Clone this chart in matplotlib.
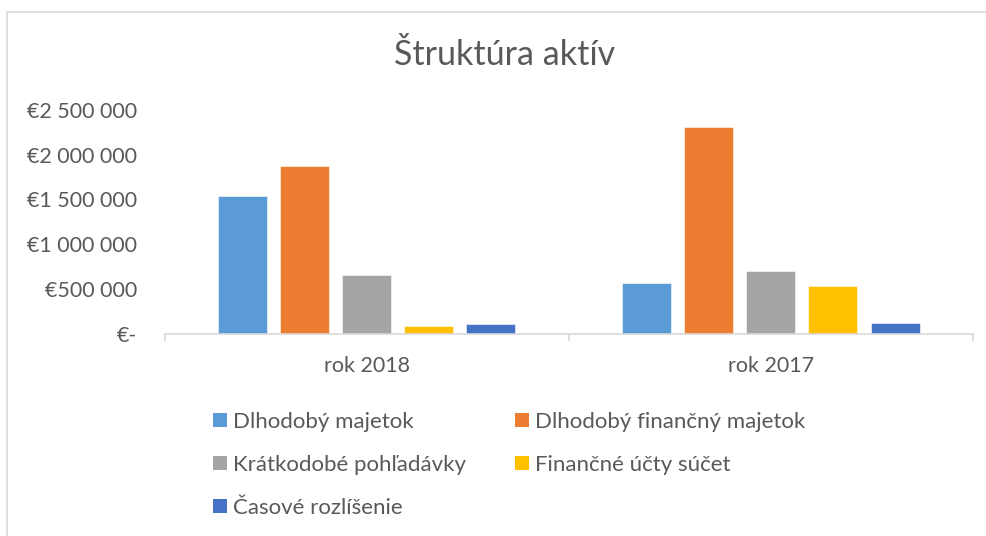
import matplotlib

matplotlib.use("Agg")

import matplotlib.pyplot as plt
import numpy as np
from matplotlib.patches import Patch, Rectangle

plt.rcParams["font.family"] = ["Lato", "DejaVu Sans"]

TEXT = "#595959"
LINE = "#D9D9D9"

categories = ["rok 2018", "rok 2017"]
series = [
    "Dlhodobý majetok",
    "Dlhodobý finančný majetok",
    "Krátkodobé pohľadávky",
    "Finančné účty súčet",
    "Časové rozlíšenie",
]
dlhodoby_majetok = [1541000, 562000]
dlhodoby_financny = [1874000, 2313000]
kratkodobe_pohladavky = [651000, 696000]
financne_ucty = [84000, 528000]
casove_rozlisenie = [106000, 114000]
values = [dlhodoby_majetok, dlhodoby_financny, kratkodobe_pohladavky, financne_ucty, casove_rozlisenie]
colors = ["#5B9BD5", "#ED7D31", "#A5A5A5", "#FFC000", "#4472C4"]

y_ticks = [0, 500000, 1000000, 1500000, 2000000, 2500000]
y_labels = ["€-", "€500 000", "€1 000 000", "€1 500 000", "€2 000 000", "€2 500 000"]


def main():
    fig = plt.figure(figsize=(9.87, 5.36), dpi=100, facecolor="white")
    fig.patches.append(
        Rectangle((6.5 / 987, -0.1), 1.2, (536 - 11.5) / 536 + 0.1, transform=fig.transFigure,
                  facecolor="none", edgecolor=LINE, linewidth=1.2)
    )

    ax = fig.add_axes([165 / 987, (536 - 333.5) / 536, (973 - 165) / 987, (333.5 - 110) / 536])
    x = np.arange(len(categories))
    step = 62 / 404
    width = 49 / 404
    handles = []
    for i, (name, vals, col) in enumerate(zip(series, values, colors)):
        offset = (i - 2) * step
        ax.bar(x + offset, vals, width=width, color=col, edgecolor="white", linewidth=0.4, zorder=2)
        handles.append(Patch(facecolor=col, edgecolor="none", label=name))

    ax.set_xlim(-0.5, len(categories) - 0.5)
    ax.set_ylim(0, 2500000)
    ax.set_yticks(y_ticks, y_labels)
    ax.set_xticks(x, categories)
    ax.set_xticks(np.arange(len(categories) + 1) - 0.5, minor=True)
    ax.tick_params(axis="y", length=0, pad=20, labelsize=15.5, labelcolor=TEXT)
    ax.tick_params(axis="x", which="major", length=0, pad=16, labelsize=15.5, labelcolor=TEXT)
    ax.tick_params(axis="x", which="minor", length=5, width=1.2, color=LINE)
    for side in ["top", "right", "left"]:
        ax.spines[side].set_visible(False)
    ax.spines["bottom"].set_color(LINE)
    ax.spines["bottom"].set_linewidth(1.2)

    fig.text(505 / 987, 1 - 55 / 536, "Štruktúra aktív", ha="center", va="center", fontsize=24.5, color=TEXT)

    order = [0, 2, 4, 1, 3]
    fig.legend(
        [handles[k] for k in order],
        [series[k] for k in order],
        ncol=2,
        loc="upper left",
        bbox_to_anchor=(213 / 987, 1 - 412 / 536),
        frameon=False,
        fontsize=16,
        labelcolor=TEXT,
        handlelength=0.62,
        handleheight=0.62,
        handletextpad=0.28,
        columnspacing=2.2,
        labelspacing=1.03,
        borderaxespad=0,
        borderpad=0,
    )

    fig.savefig("out.png", dpi=100, facecolor="white")
    plt.close(fig)


if __name__ == "__main__":
    main()
